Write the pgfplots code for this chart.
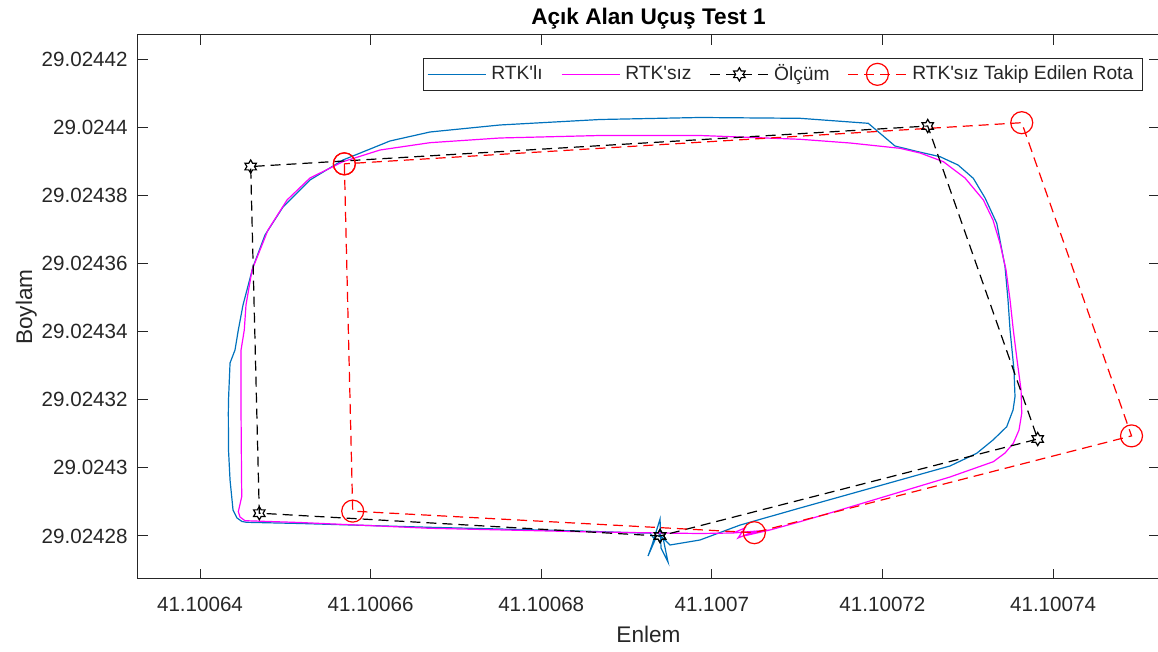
\documentclass[border=0pt]{standalone}
\usepackage{fontspec}
\setmainfont{Liberation Sans}
\usepackage{pgfplots}
\pgfplotsset{compat=1.18}
\definecolor{mblue}{rgb}{0,0.447,0.741}
\definecolor{mmag}{rgb}{1,0,1}
\definecolor{mred}{rgb}{1,0,0}
\definecolor{axgray}{rgb}{0.15,0.15,0.15}
% six-pointed star (MATLAB hexagram)
\pgfdeclareplotmark{hexagram}{%
  \pgfpathmoveto{\pgfpointpolar{90}{\pgfplotmarksize}}%
  \pgfpathlineto{\pgfpointpolar{120}{0.577\pgfplotmarksize}}%
  \pgfpathlineto{\pgfpointpolar{150}{\pgfplotmarksize}}%
  \pgfpathlineto{\pgfpointpolar{180}{0.577\pgfplotmarksize}}%
  \pgfpathlineto{\pgfpointpolar{210}{\pgfplotmarksize}}%
  \pgfpathlineto{\pgfpointpolar{240}{0.577\pgfplotmarksize}}%
  \pgfpathlineto{\pgfpointpolar{270}{\pgfplotmarksize}}%
  \pgfpathlineto{\pgfpointpolar{300}{0.577\pgfplotmarksize}}%
  \pgfpathlineto{\pgfpointpolar{330}{\pgfplotmarksize}}%
  \pgfpathlineto{\pgfpointpolar{0}{0.577\pgfplotmarksize}}%
  \pgfpathlineto{\pgfpointpolar{30}{\pgfplotmarksize}}%
  \pgfpathlineto{\pgfpointpolar{60}{0.577\pgfplotmarksize}}%
  \pgfpathclose
  \pgfusepathqstroke
}
% Coordinates: x = 41.1006 + u*1e-5 (Enlem), y = 29.024 + v*1e-5 (Boylam)
\begin{document}
\begin{tikzpicture}
\begin{axis}[
  scale only axis, width=510.5pt, height=272pt,
  xmin=3.273, xmax=15.242, ymin=26.737, ymax=42.714,
  axis line style={axgray, line width=0.5pt},
  every tick/.style={axgray, line width=0.5pt},
  tick align=inside, major tick length=5pt,
  xtick pos=both, ytick pos=both,
  xticklabel pos=lower, yticklabel pos=left,
  xtick={4,6,8,10,12,14},
  xticklabels={41.10064,41.10066,41.10068,41.1007,41.10072,41.10074},
  ytick={28,30,32,34,36,38,40,42},
  yticklabels={29.02428,29.0243,29.02432,29.02434,29.02436,29.02438,29.0244,29.02442},
  /pgf/number format/assume math mode=true,
  ticklabel style={font=\fontsize{10.3}{12}\selectfont, text=axgray},
  xticklabel style={anchor=base, yshift=-16.5pt},
  yticklabel style={anchor=east, inner sep=0pt, xshift=-5pt},
  title={Açık Alan Uçuş Test 1},
  every axis title/.style={at={(0.5,1.01838)}, anchor=base, font=\fontsize{11.3}{13}\selectfont\bfseries},
  xlabel={Enlem},
  xlabel style={at={(axis description cs:0.5,-0.11765)}, anchor=base, font=\fontsize{11.3}{13}\selectfont, text=axgray},
  ylabel={Boylam},
  ylabel style={at={(axis description cs:-0.1038,0.5)}, anchor=base, font=\fontsize{11.3}{13}\selectfont, text=axgray},
  legend columns=4,
  legend image code/.code={\draw[mark repeat=2,mark phase=2,#1] plot coordinates {(0pt,0pt) (14.5pt,0pt) (29pt,0pt)};},
  legend style={at={(axis description cs:0.9843,0.9586)}, anchor=north east,
    draw=axgray, line width=0.5pt, font=\fontsize{9.6}{11}\selectfont, text=axgray,
    inner xsep=2pt, inner ysep=0.8pt,
    nodes={inner sep=2.6pt},
    /tikz/every even column/.append style={column sep=6.5pt}},
]
\addplot[mblue, line width=0.6pt] coordinates {
(9.369,28.088) (9.510,27.736) (9.861,27.882) (10.330,28.32) (11.034,28.822)
(11.620,29.233) (12.206,29.645) (12.792,30.056) (13.105,30.429) (13.296,30.819)
(13.457,31.210) (13.531,31.700) (13.554,32.091) (13.542,32.875) (13.496,34.050)
(13.472,34.931) (13.437,35.909) (13.340,37.184) (13.203,37.927) (13.065,38.505)
(12.886,38.896) (12.675,39.140) (12.382,39.307) (12.147,39.454) (11.834,40.120)
(11.034,40.267) (9.861,40.291) (8.689,40.232) (7.517,40.071) (6.696,39.865)
(6.227,39.601) (5.676,39.043) (5.289,38.455) (4.973,37.662) (4.762,36.840)
(4.621,35.900) (4.504,34.784) (4.449,34.050) (4.410,33.462) (4.352,33.081)
(4.334,31.994) (4.332,31.612) (4.334,30.526) (4.352,29.645) (4.387,28.763)
(4.434,28.528) (4.492,28.426) (4.547,28.402) (5.172,28.367) (6.696,28.255)
(8.455,28.147) (9.158,28.088) (9.275,28.088) (9.334,27.882) (9.252,27.412)
(9.299,27.736) (9.393,28.499) (9.404,27.647) (9.486,27.236) (9.428,27.941)
(9.369,28.000)
};
\addlegendentry{RTK\textquotesingle lı}
\addplot[mmag, line width=0.6pt] coordinates {
(10.248,28.088) (10.682,28.176) (11.034,28.420) (11.385,28.675) (12.206,29.292)
(12.792,29.733) (13.300,30.182) (13.437,30.437) (13.534,30.722) (13.601,31.113)
(13.633,31.603) (13.625,32.288) (13.578,33.169) (13.534,34.050) (13.496,34.931)
(13.449,35.812) (13.378,36.596) (13.296,37.280) (13.183,37.868) (12.968,38.514)
(12.714,38.993) (12.441,39.248) (12.206,39.386) (11.620,39.542) (11.034,39.651)
(9.861,39.762) (8.689,39.762) (7.517,39.689) (6.696,39.551) (6.110,39.336)
(5.676,38.993) (5.289,38.514) (5.020,37.868) (4.797,36.987) (4.610,35.812)
(4.539,34.784) (4.519,34.050) (4.481,33.462) (4.481,31.612) (4.486,29.938)
(4.489,29.154) (4.449,28.714) (4.469,28.558) (4.527,28.449) (5.172,28.396)
(6.696,28.226) (8.455,28.126) (9.393,28.088) (9.861,28.073) (10.248,28.088)
(10.389,28.235) (10.307,27.941) (10.506,28.147) (10.424,28.029) (10.682,28.176)
(10.448,28.088)
};
\addlegendentry{RTK\textquotesingle sız}
\addplot[black, line width=0.6pt, dash pattern=on 5pt off 3pt, mark=hexagram, mark size=3.3pt, mark options={solid}] coordinates {
(9.393,28.000) (4.695,28.670) (4.594,38.850) (12.531,40.040) (13.820,30.848) (9.393,28.000)
};
\addlegendentry{Ölçüm}
\addplot[mred, line width=0.6pt, dash pattern=on 5pt off 3pt, mark=o, mark size=5.5pt, mark options={solid}] coordinates {
(5.692,38.930) (5.790,28.730) (10.498,28.097) (14.920,30.940) (13.633,40.138) (5.692,38.930)
};
\addlegendentry{RTK\textquotesingle sız Takip Edilen Rota}
\end{axis}
\pgfresetboundingbox
\path[use as bounding box] (-69pt,-36.5pt) rectangle (510pt,289.5pt);
\end{tikzpicture}
\end{document}
